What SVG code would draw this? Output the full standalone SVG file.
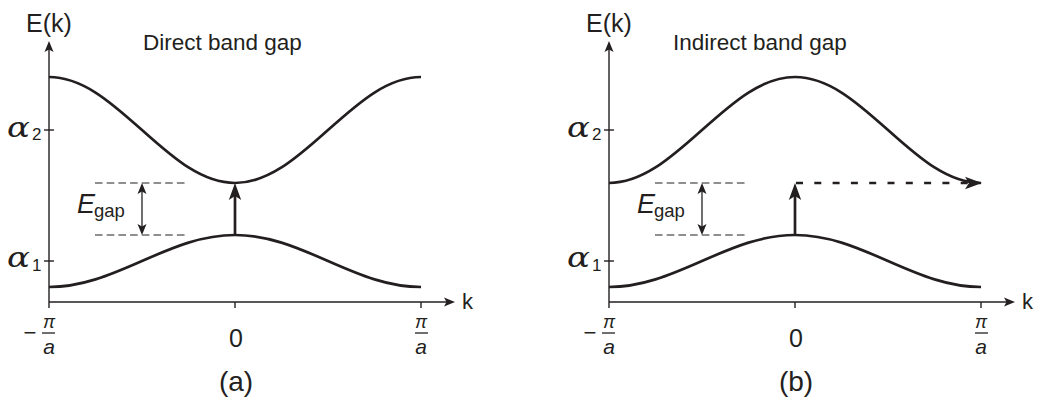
<svg xmlns="http://www.w3.org/2000/svg" width="1043" height="401" viewBox="0 0 1043 401">
<style>
text{font-family:"Liberation Sans",Arial,sans-serif;fill:#231f20}
.lbl{font-size:22px}
.ttl{font-size:22.5px}
.big{font-size:25px}
.alpha{font-family:"DejaVu Serif","Liberation Serif",serif;font-style:italic;font-size:27px}
.sub{font-size:17px}
.it{font-style:italic}
.axis{stroke:#231f20;stroke-width:1.4;fill:none}
.band{stroke:#231f20;stroke-width:2.7;fill:none}
.thick{stroke:#231f20;stroke-width:2.7;fill:none}
.ref{stroke:#231f20;stroke-width:1.1;stroke-dasharray:7.6 4.1;fill:none}
.thin{stroke:#231f20;stroke-width:1.3;fill:none}
.dash2{stroke:#231f20;stroke-width:2.7;stroke-dasharray:7 11.3;fill:none}
</style>
<defs>
<marker id="ah" markerUnits="userSpaceOnUse" viewBox="0 -7 18 14" markerWidth="18" markerHeight="14" refX="7" refY="0" orient="auto">
<path d="M17,0 L0,-6.2 L4,0 L0,6.2 Z" fill="#231f20"/>
</marker>
<marker id="at" markerUnits="userSpaceOnUse" viewBox="0 -5 12 10" markerWidth="12" markerHeight="10" refX="4" refY="0" orient="auto-start-reverse">
<path d="M11,0 L0,-4.5 L2.5,0 L0,4.5 Z" fill="#231f20"/>
</marker>
</defs>

<g id="panel-a">
<g id="axes-a">
<line class="axis" x1="49" y1="308" x2="49" y2="48" marker-end="url(#at)"/>
<line class="axis" x1="49" y1="302" x2="448" y2="302" marker-end="url(#at)"/>
<line class="axis" x1="235" y1="302" x2="235" y2="308"/>
<line class="axis" x1="421" y1="302" x2="421" y2="308"/>
<line class="axis" x1="44" y1="130" x2="54" y2="130"/>
<line class="axis" x1="44" y1="261" x2="54" y2="261"/>
<text class="big" x="49" y="32" text-anchor="middle">E(k)</text>
<text class="lbl" x="462" y="309">k</text>
<text class="alpha" x="7" y="137" textLength="23" lengthAdjust="spacingAndGlyphs">α</text><text class="sub" x="32" y="140">2</text>
<text class="alpha" x="7" y="267" textLength="23" lengthAdjust="spacingAndGlyphs">α</text><text class="sub" x="32" y="271">1</text>
<text class="lbl" x="30" y="340" text-anchor="middle">−</text>
<text class="it" x="49" y="328" font-size="18" text-anchor="middle">π</text>
<line class="thin" x1="42" y1="333" x2="55" y2="333"/>
<text class="it" x="49" y="354" font-size="21" text-anchor="middle">a</text>
<text class="big" x="236" y="347" text-anchor="middle">0</text>
<text class="it" x="421" y="328" font-size="18" text-anchor="middle">π</text>
<line class="thin" x1="415" y1="333" x2="428" y2="333"/>
<text class="it" x="421" y="354" font-size="21" text-anchor="middle">a</text>
<text class="ttl" x="143" y="50">Direct band gap</text>
<text x="236" y="391" font-size="28" text-anchor="middle">(a)</text>
</g>
<g id="upper-band-a">
<path class="band" d="M49,77 C64.5,77 80,82.71 95.5,92.52 C111,102.33 126.5,116.12 142,130 C157.5,143.88 173,157.67 188.5,167.48 C204,177.29 219.5,183 235,183 C250.5,183 266,177.29 281.5,167.48 C297,157.67 312.5,143.88 328,130 C343.5,116.12 359,102.33 374.5,92.52 C390,82.71 405.5,77 421,77"/>
</g>
<g id="lower-band-a">
<path class="band" d="M49,287 C64.5,287 80,284.19 95.5,279.38 C111,274.57 126.5,267.81 142,261 C157.5,254.19 173,247.43 188.5,242.62 C204,237.81 219.5,235 235,235 C250.5,235 266,237.81 281.5,242.62 C297,247.43 312.5,254.19 328,261 C343.5,267.81 359,274.57 374.5,279.38 C390,284.19 405.5,287 421,287"/>
</g>
<g id="egap-a">
<line class="ref" x1="95" y1="183" x2="186" y2="183"/>
<line class="ref" x1="95" y1="235" x2="186" y2="235"/>
<text x="77" y="213" font-size="27" class="it">E</text><text x="94" y="217" font-size="18.5">gap</text>
</g>
<g id="connectors-a">
<line class="thin" x1="142" y1="190" x2="142" y2="228" marker-start="url(#at)" marker-end="url(#at)"/>
<line class="thick" x1="235" y1="235" x2="235" y2="193" marker-end="url(#ah)"/>
</g>
</g>

<g id="panel-b" transform="translate(560,0)">
<g id="axes-b">
<line class="axis" x1="49" y1="308" x2="49" y2="48" marker-end="url(#at)"/>
<line class="axis" x1="49" y1="302" x2="448" y2="302" marker-end="url(#at)"/>
<line class="axis" x1="235" y1="302" x2="235" y2="308"/>
<line class="axis" x1="421" y1="302" x2="421" y2="308"/>
<line class="axis" x1="44" y1="130" x2="54" y2="130"/>
<line class="axis" x1="44" y1="261" x2="54" y2="261"/>
<text class="big" x="49" y="32" text-anchor="middle">E(k)</text>
<text class="lbl" x="462" y="309">k</text>
<text class="alpha" x="7" y="137" textLength="23" lengthAdjust="spacingAndGlyphs">α</text><text class="sub" x="32" y="140">2</text>
<text class="alpha" x="7" y="267" textLength="23" lengthAdjust="spacingAndGlyphs">α</text><text class="sub" x="32" y="271">1</text>
<text class="lbl" x="30" y="340" text-anchor="middle">−</text>
<text class="it" x="49" y="328" font-size="18" text-anchor="middle">π</text>
<line class="thin" x1="42" y1="333" x2="55" y2="333"/>
<text class="it" x="49" y="354" font-size="21" text-anchor="middle">a</text>
<text class="big" x="236" y="347" text-anchor="middle">0</text>
<text class="it" x="421" y="328" font-size="18" text-anchor="middle">π</text>
<line class="thin" x1="415" y1="333" x2="428" y2="333"/>
<text class="it" x="421" y="354" font-size="21" text-anchor="middle">a</text>
<text class="ttl" x="113" y="50">Indirect band gap</text>
<text x="236" y="391" font-size="28" text-anchor="middle">(b)</text>
</g>
<g id="upper-band-b">
<path class="band" d="M49,183 C64.5,183 80,177.29 95.5,167.48 C111,157.67 126.5,143.88 142,130 C157.5,116.12 173,102.33 188.5,92.52 C204,82.71 219.5,77 235,77 C250.5,77 266,82.71 281.5,92.52 C297,102.33 312.5,116.12 328,130 C343.5,143.88 359,157.67 374.5,167.48 C390,177.29 405.5,183 421,183"/>
</g>
<g id="lower-band-b">
<path class="band" d="M49,287 C64.5,287 80,284.19 95.5,279.38 C111,274.57 126.5,267.81 142,261 C157.5,254.19 173,247.43 188.5,242.62 C204,237.81 219.5,235 235,235 C250.5,235 266,237.81 281.5,242.62 C297,247.43 312.5,254.19 328,261 C343.5,267.81 359,274.57 374.5,279.38 C390,284.19 405.5,287 421,287"/>
</g>
<g id="egap-b">
<line class="ref" x1="95" y1="183" x2="186" y2="183"/>
<line class="ref" x1="95" y1="235" x2="186" y2="235"/>
<text x="77" y="213" font-size="27" class="it">E</text><text x="94" y="217" font-size="18.5">gap</text>
</g>
<g id="connectors-b">
<line class="thin" x1="142" y1="190" x2="142" y2="228" marker-start="url(#at)" marker-end="url(#at)"/>
<line class="thick" x1="235" y1="235" x2="235" y2="193" marker-end="url(#ah)"/>
<line class="dash2" x1="236" y1="183" x2="412" y2="183" marker-end="url(#ah)"/>
</g>
</g>
</svg>
